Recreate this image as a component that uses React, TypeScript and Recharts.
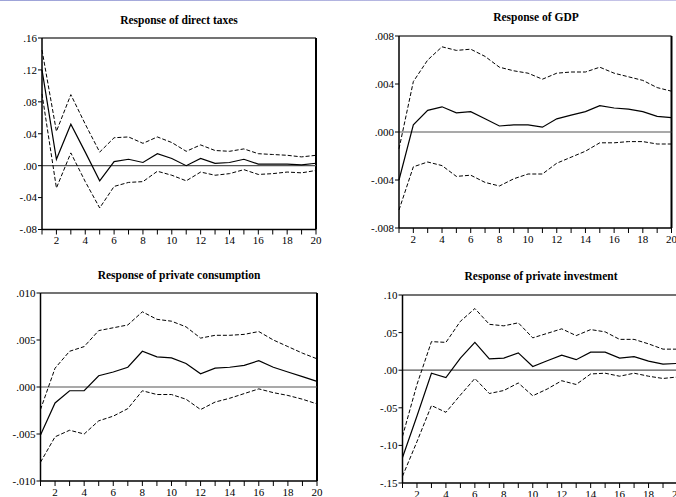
import React from 'react';
import { LineChart, Line, XAxis, YAxis, ReferenceLine } from 'recharts';

const periods = [1, 2, 3, 4, 5, 6, 7, 8, 9, 10, 11, 12, 13, 14, 15, 16, 17, 18, 19, 20];

// Response of direct taxes
const taxUpper = [0.145, 0.043, 0.089, 0.052, 0.017, 0.035, 0.036, 0.028, 0.036, 0.029, 0.018, 0.026, 0.019, 0.018, 0.021, 0.015, 0.014, 0.013, 0.011, 0.013];
const taxMid = [0.12, 0.008, 0.052, 0.017, -0.019, 0.005, 0.008, 0.004, 0.015, 0.009, 0.0, 0.009, 0.003, 0.004, 0.008, 0.002, 0.002, 0.002, 0.001, 0.003];
const taxLower = [0.09, -0.028, 0.016, -0.02, -0.053, -0.026, -0.021, -0.02, -0.007, -0.012, -0.019, -0.008, -0.012, -0.01, -0.005, -0.011, -0.01, -0.008, -0.009, -0.006];
const taxTicks = [-0.08, -0.04, 0, 0.04, 0.08, 0.12, 0.16];

// Response of GDP
const gdpUpper = [-0.0014, 0.0042, 0.006, 0.0071, 0.0068, 0.0069, 0.0063, 0.0054, 0.0051, 0.0049, 0.0044, 0.0049, 0.005, 0.005, 0.0054, 0.0049, 0.0046, 0.0043, 0.0037, 0.0034];
const gdpMid = [-0.004, 0.0006, 0.0018, 0.0021, 0.0016, 0.0017, 0.0011, 0.0005, 0.0006, 0.0006, 0.0004, 0.0011, 0.0014, 0.0017, 0.0022, 0.002, 0.0019, 0.0017, 0.0013, 0.0012];
const gdpLower = [-0.0065, -0.0029, -0.0025, -0.0028, -0.0037, -0.0036, -0.0042, -0.0045, -0.0039, -0.0035, -0.0035, -0.0026, -0.0021, -0.0016, -0.0009, -0.0009, -0.0008, -0.0008, -0.001, -0.001];
const gdpTicks = [-0.008, -0.004, 0, 0.004, 0.008];

// Response of private consumption
const consUpper = [-0.0024, 0.002, 0.0038, 0.0043, 0.006, 0.0063, 0.0066, 0.008, 0.0072, 0.007, 0.0064, 0.0052, 0.0055, 0.0055, 0.0056, 0.0059, 0.005, 0.0043, 0.0036, 0.003];
const consMid = [-0.0051, -0.0017, -0.0004, -0.0004, 0.0012, 0.0016, 0.0021, 0.0038, 0.0032, 0.0031, 0.0025, 0.0014, 0.002, 0.0021, 0.0023, 0.0028, 0.0021, 0.0016, 0.0011, 0.0006];
const consLower = [-0.008, -0.0053, -0.0046, -0.005, -0.0036, -0.0031, -0.0023, -0.0004, -0.0008, -0.0008, -0.0013, -0.0024, -0.0016, -0.0012, -0.0007, -0.0002, -0.0006, -0.0009, -0.0013, -0.0018];
const consTicks = [-0.01, -0.005, 0, 0.005, 0.01];

// Response of private investment
const invUpper = [-0.088, -0.019, 0.038, 0.037, 0.065, 0.082, 0.061, 0.059, 0.063, 0.043, 0.049, 0.055, 0.046, 0.054, 0.051, 0.041, 0.041, 0.035, 0.028, 0.028];
const invMid = [-0.116, -0.061, -0.004, -0.0097, 0.016, 0.037, 0.015, 0.016, 0.023, 0.005, 0.0125, 0.02, 0.014, 0.024, 0.024, 0.016, 0.018, 0.012, 0.008, 0.009];
const invLower = [-0.141, -0.095, -0.047, -0.056, -0.033, -0.011, -0.031, -0.027, -0.017, -0.034, -0.025, -0.014, -0.019, -0.005, -0.004, -0.008, -0.004, -0.008, -0.011, -0.009];
const invTicks = [-0.15, -0.1, -0.05, 0, 0.05, 0.1];

const FONT = '"Liberation Serif", "Times New Roman", serif';

const fmt = (dec: number) => (v: number) => {
  const s = Math.abs(v).toFixed(dec).replace(/^0/, '');
  return v < -1e-12 ? '-' + s : s;
};

interface PanelProps {
  title: string;
  titleX: number;
  titleY: number;
  left: number;
  top: number;
  width: number;
  plotLeft: number;
  plotRight: number;
  plotTop: number;
  plotBottom: number;
  upper: number[];
  mid: number[];
  lower: number[];
  ticks: number[];
  decimals: number;
}

const Panel: React.FC<PanelProps> = ({
  title, titleX, titleY, left, top, width,
  plotLeft, plotRight, plotTop, plotBottom,
  upper, mid, lower, ticks, decimals,
}) => {
  const height = 250;
  const data = periods.map((x, i) => ({ x, hi: upper[i], mid: mid[i], lo: lower[i] }));
  const yMin = ticks[0];
  const yMax = ticks[ticks.length - 1];
  const xAxisH = 18;
  return (
    <div style={{ position: 'absolute', left, top, width, height }}>
      <div
        style={{
          position: 'absolute', left: titleX - 150, top: titleY - 8, width: 300,
          textAlign: 'center', fontFamily: FONT, fontWeight: 'bold', fontSize: 11.5, lineHeight: '16px',
        }}
      >
        {title}
      </div>
      <LineChart
        width={width}
        height={height}
        data={data}
        margin={{ top: plotTop, right: width - plotRight, left: 0, bottom: height - plotBottom - xAxisH }}
      >
        <XAxis
          dataKey="x"
          type="number"
          domain={[1, 20]}
          ticks={periods}
          interval={0}
          height={xAxisH}
          tickSize={5}
          tickMargin={2}
          tickFormatter={(v: number) => (v % 2 === 0 ? String(v) : '')}
          tick={{ fill: '#000', fontSize: 11, fontFamily: FONT }}
          axisLine={{ stroke: '#000', strokeWidth: 1.5 }}
          tickLine={{ stroke: '#000' }}
        />
        <YAxis
          type="number"
          domain={[yMin, yMax]}
          ticks={ticks}
          interval={0}
          width={plotLeft}
          tickSize={4}
          tickMargin={1}
          tickFormatter={fmt(decimals)}
          tick={{ fill: '#000', fontSize: 11, fontFamily: FONT }}
          axisLine={{ stroke: '#000', strokeWidth: 1.5 }}
          tickLine={{ stroke: '#000' }}
        />
        <ReferenceLine y={yMax} stroke="#444" strokeWidth={1.5} />
        <ReferenceLine x={20} stroke="#000" strokeWidth={2} />
        <ReferenceLine y={0} stroke="#555" strokeWidth={1.2} />
        <Line dataKey="hi" stroke="#000" strokeWidth={1} strokeDasharray="4 2" dot={false} isAnimationActive={false} />
        <Line dataKey="mid" stroke="#000" strokeWidth={1.2} dot={false} isAnimationActive={false} />
        <Line dataKey="lo" stroke="#000" strokeWidth={1} strokeDasharray="4 2" dot={false} isAnimationActive={false} />
      </LineChart>
    </div>
  );
};

export default function App() {
  return (
    <div style={{ position: 'absolute', left: 0, top: 0, width: 676, height: 497, overflow: 'hidden', background: '#fff' }}>
      <div style={{ position: 'absolute', left: 0, top: 0, width: 676, height: 1, background: 'linear-gradient(90deg, #9da3d8, #c7c5e8)' }} />
      <Panel
        title="Response of direct taxes" titleX={179} titleY={20}
        left={0} top={0} width={340}
        plotLeft={42} plotRight={316} plotTop={38} plotBottom={229.5}
        upper={taxUpper} mid={taxMid} lower={taxLower} ticks={taxTicks} decimals={2}
      />
      <Panel
        title="Response of GDP" titleX={200} titleY={17}
        left={336} top={0} width={340}
        plotLeft={63} plotRight={335.5} plotTop={36} plotBottom={228}
        upper={gdpUpper} mid={gdpMid} lower={gdpLower} ticks={gdpTicks} decimals={3}
      />
      <Panel
        title="Response of private consumption" titleX={179} titleY={25}
        left={0} top={250} width={340}
        plotLeft={40.5} plotRight={317} plotTop={43} plotBottom={231}
        upper={consUpper} mid={consMid} lower={consLower} ticks={consTicks} decimals={3}
      />
      <Panel
        title="Response of private investment" titleX={205} titleY={26}
        left={336} top={250} width={346}
        plotLeft={66.5} plotRight={341.5} plotTop={45} plotBottom={233}
        upper={invUpper} mid={invMid} lower={invLower} ticks={invTicks} decimals={2}
      />
    </div>
  );
}
